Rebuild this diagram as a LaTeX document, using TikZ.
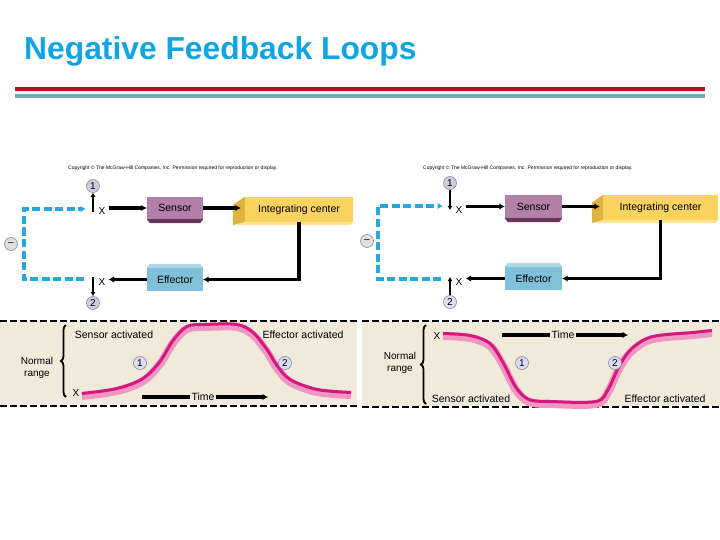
\documentclass[tikz,border=0pt]{standalone}
\usepackage{fontspec}
\setmainfont{Liberation Sans}
\usetikzlibrary{%
    arrows.meta,%
    decorations.pathreplacing
    }
\definecolor{titleblue}{RGB}{16,164,224}
\definecolor{rulered}{RGB}{190,18,28}
\definecolor{ruleteal}{RGB}{112,170,186}
\definecolor{sensormauve}{RGB}{178,128,168}
\definecolor{sensordark}{RGB}{105,52,92}
\definecolor{intyellow}{RGB}{250,210,95}
\definecolor{intdark}{RGB}{222,180,62}
\definecolor{intlight}{RGB}{252,228,150}
\definecolor{effblue}{RGB}{128,192,216}
\definecolor{efflight}{RGB}{172,216,232}
\definecolor{fbcyan}{RGB}{38,168,222}
\definecolor{numfill}{RGB}{204,204,226}
\definecolor{panelbeige}{RGB}{240,234,218}
\definecolor{curvedark}{RGB}{214,24,122}
\definecolor{curvelight}{RGB}{240,150,196}
\tikzset{
  sensorbox/.style={
    rectangle,
    minimum width=56pt,
    minimum height=22pt,
    inner sep=0pt,
    fill=sensormauve,
    font=\fontsize{10.5}{12}\selectfont,
  },
  intbox/.style={
    rectangle,
    minimum height=25pt,
    inner sep=0pt,
    fill=intyellow,
    font=\fontsize{10.5}{12}\selectfont,
  },
  effbox/.style={
    rectangle,
    minimum width=56pt,
    minimum height=23pt,
    inner sep=0pt,
    fill=effblue,
    font=\fontsize{10.5}{12}\selectfont,
  },
  numcirc/.style={
    circle,
    draw=black!45,
    line width=0.6pt,
    fill=numfill,
    minimum size=13pt,
    inner sep=0pt,
    font=\fontsize{10}{10}\selectfont,
  },
  xlabel/.style={
    inner sep=0pt,
    font=\fontsize{10}{11}\selectfont,
  },
  panellabel/.style={
    inner sep=1pt,
    font=\fontsize{10.5}{12}\selectfont,
  },
  flowarrow/.style={
    line width=3.3pt,
    -{Latex[length=5.5pt,width=6.5pt]},
  },
  thinarrow/.style={
    line width=2.2pt,
    -{Latex[length=4pt,width=5pt]},
  },
  fbdash/.style={
    fbcyan,
    line width=3.4pt,
    dash pattern=on 8pt off 3.5pt,
    -{Latex[length=5.5pt,width=6.5pt]},
  },
  paneldash/.style={
    line width=2.2pt,
    dash pattern=on 7pt off 3pt,
  },
}

\begin{document}
\begin{tikzpicture}[x=1pt,y=-1pt]
\useasboundingbox (0,0) rectangle (720,540);

% heading
\node[anchor=base west, inner sep=0pt, text=titleblue,
  font=\fontsize{31.8}{36}\selectfont\bfseries] (title) at (24,60) {Negative Feedback Loops};
\fill[rulered] (15,87.5) rectangle (705,91);
\fill[ruleteal] (15,94.5) rectangle (705,98);

% ---------- left loop ----------
\node[anchor=west, inner sep=0pt, font=\fontsize{5}{6}\selectfont] (lcopy) at (68,168)
  {Copyright © The McGraw-Hill Companies, Inc. Permission required for reproduction or display.};
\node[sensorbox] (lsen) at (175,208) {Sensor};
\node[intbox, minimum width=108pt] (lint) at (299,209.5) {Integrating center};
\node[effbox] (leff) at (175,279.5) {Effector};
\fill[sensordark] (lsen.south west) -- (lsen.south east)
  -- ([xshift=-3pt,yshift=-4pt]lsen.south east) -- ([xshift=3pt,yshift=-4pt]lsen.south west) -- cycle;
\fill[intdark] (lint.north west) -- (lint.south west)
  -- ([xshift=-12pt,yshift=-3pt]lint.south west) -- ([xshift=-12pt,yshift=-8pt]lint.north west) -- cycle;
\fill[intlight] (lint.south west) -- (lint.south east)
  -- ([xshift=-3pt,yshift=-3pt]lint.south east) -- ([xshift=-12pt,yshift=-3pt]lint.south west) -- cycle;
\fill[efflight] (leff.north west) -- (leff.north east)
  -- ([xshift=-3pt,yshift=4pt]leff.north east) -- ([xshift=3pt,yshift=4pt]leff.north west) -- cycle;

\node[numcirc] (l1) at (93,186) {1};
\node[numcirc] (l2) at (93,303) {2};
\node[numcirc, fill=black!12] (lminus) at (11,244) {\textendash};
\node[xlabel] (lxa) at (102,211) {X};
\node[xlabel] (lxb) at (102,282) {X};
\coordinate (lva) at (93,212);
\coordinate (lvb) at (93,277);
\coordinate (lda) at (86,209);
\coordinate (ldb) at (84,279);

\begin{scope}[flowarrow]
\draw (lsen.west -| lxa.east) ++(3,0) -- (lsen.west);
\draw (lsen.east) -- ([xshift=-4pt]lint.west |- lsen.east);
\draw (lint.south) |- (leff.east);
\draw (leff.west) -- ([xshift=3pt]leff.west -| lxb.east);
\end{scope}
\draw[thinarrow] (lva) -- (l1);
\draw[thinarrow] (lvb) -- (l2);
\draw[fbdash] (ldb) -- (24,279) -- (24,209) -- (lda);

% ---------- right loop ----------
\node[anchor=west, inner sep=0pt, font=\fontsize{5}{6}\selectfont] (rcopy) at (423,168)
  {Copyright © The McGraw-Hill Companies, Inc. Permission required for reproduction or display.};
\node[sensorbox, minimum width=57pt, minimum height=23pt] (rsen) at (533.5,206.5) {Sensor};
\node[intbox, minimum width=115pt] (rint) at (660.5,207.5) {Integrating center};
\node[effbox, minimum width=57pt] (reff) at (533.5,278.5) {Effector};
\fill[sensordark] (rsen.south west) -- (rsen.south east)
  -- ([xshift=-3pt,yshift=-4pt]rsen.south east) -- ([xshift=3pt,yshift=-4pt]rsen.south west) -- cycle;
\fill[intdark] (rint.north west) -- (rint.south west)
  -- ([xshift=-11pt,yshift=-3pt]rint.south west) -- ([xshift=-11pt,yshift=-8pt]rint.north west) -- cycle;
\fill[intlight] (rint.south west) -- (rint.south east)
  -- ([xshift=-3pt,yshift=-3pt]rint.south east) -- ([xshift=-11pt,yshift=-3pt]rint.south west) -- cycle;
\fill[efflight] (reff.north west) -- (reff.north east)
  -- ([xshift=-3pt,yshift=4pt]reff.north east) -- ([xshift=3pt,yshift=4pt]reff.north west) -- cycle;

\node[numcirc] (r1) at (450,183) {1};
\node[numcirc, fill=black!10!blue!12] (r2) at (450,302) {2};
\node[numcirc, fill=black!12] (rminus) at (367,241) {\textendash};
\node[xlabel] (rxa) at (459,210) {X};
\node[xlabel] (rxb) at (459,282) {X};
\coordinate (rva) at (450,210);
\coordinate (rvb) at (450,277);
\coordinate (rda) at (443,206);
\coordinate (rdb) at (441,279);

\begin{scope}[flowarrow]
\draw (rsen.west -| rxa.east) ++(3,0) -- (rsen.west);
\draw (rsen.east) -- ([xshift=-3pt]rint.west |- rsen.east);
\draw (rint.south) |- (reff.east);
\draw (reff.west) -- ([xshift=3pt]reff.west -| rxb.east);
\end{scope}
\draw[thinarrow] (r1) -- (rva);
\draw[thinarrow] (r2) -- (rvb);
\draw[fbdash] (rdb) -- (378,279) -- (378,206) -- (rda);

% ---------- left graph ----------
\fill[panelbeige] (0,322) rectangle (357,405);
\draw[paneldash] (0,321) -- (357,321);
\draw[paneldash] (0,406) -- (357,406);
\draw[line width=1.8pt, decorate, decoration={brace, amplitude=5pt}] (66,397) -- (66,325);
\node[panellabel, align=center, font=\fontsize{10}{12.5}\selectfont] (lnorm) at (37,368) {Normal\\range};
\node[panellabel] (lsact) at (114,335) {Sensor activated};
\node[panellabel] (leact) at (303,335) {Effector activated};
\node[xlabel] (lx) at (76,393) {X};
\draw[curvelight, line width=8pt] plot[smooth, tension=0.55] coordinates {
  (82,396) (117,391) (143,381) (160,364) (173,343) (187,329) (205,327)
  (237,327) (253,335) (267,352) (277,368) (290,382) (317,392) (351,395)};
\draw[curvedark, line width=3pt] plot[smooth, tension=0.55] coordinates {
  (82,393.5) (117,388.5) (143,378.5) (160,361.5) (173,340.5) (187,326.5) (205,324.5)
  (237,324.5) (253,332.5) (267,349.5) (277,365.5) (290,379.5) (317,389.5) (351,392.5)};
\node[numcirc, fill=black!8!blue!14] (lg1) at (140,363) {1};
\node[numcirc, fill=black!8!blue!14] (lg2) at (285,363) {2};
\node[panellabel, fill=panelbeige] (ltime) at (203,397) {Time};
\coordinate (lta) at (142,397);
\coordinate (ltb) at (268,397);
\draw[line width=3.3pt] (lta) -- (ltime.west);
\draw[flowarrow] (ltime.east) -- (ltb);

% ---------- right graph ----------
\fill[panelbeige] (362,322) rectangle (720,406);
\draw[paneldash] (362,321) -- (720,321);
\draw[paneldash] (362,407) -- (720,407);
\draw[line width=1.8pt, decorate, decoration={brace, amplitude=5pt}] (426,404) -- (426,325);
\node[panellabel, align=center, font=\fontsize{10}{12.5}\selectfont] (rnorm) at (400,363) {Normal\\range};
\node[panellabel] (rsact) at (471,399) {Sensor activated};
\node[panellabel] (react) at (665,399) {Effector activated};
\node[xlabel] (rx) at (437,336) {X};
\draw[curvelight, line width=8pt] plot[smooth, tension=0.55] coordinates {
  (443,336) (470,338) (490,346) (503,365) (516,390) (529,402) (550,404)
  (596,404) (608,392) (620,367) (633,350) (653,339) (693,335) (712,333)};
\draw[curvedark, line width=3pt] plot[smooth, tension=0.55] coordinates {
  (443,333.5) (470,335.5) (490,343.5) (503,362.5) (516,387.5) (529,399.5) (550,401.5)
  (596,401.5) (608,389.5) (620,364.5) (633,347.5) (653,336.5) (693,332.5) (712,330.5)};
\node[numcirc, fill=black!8!blue!14] (rg1) at (522,363) {1};
\node[numcirc, fill=black!8!blue!14] (rg2) at (615,363) {2};
\node[panellabel, fill=panelbeige] (rtime) at (563,335) {Time};
\coordinate (rta) at (502,335);
\coordinate (rtb) at (628,335);
\draw[line width=3.3pt] (rta) -- (rtime.west);
\draw[flowarrow] (rtime.east) -- (rtb);
\end{tikzpicture}
\end{document}
